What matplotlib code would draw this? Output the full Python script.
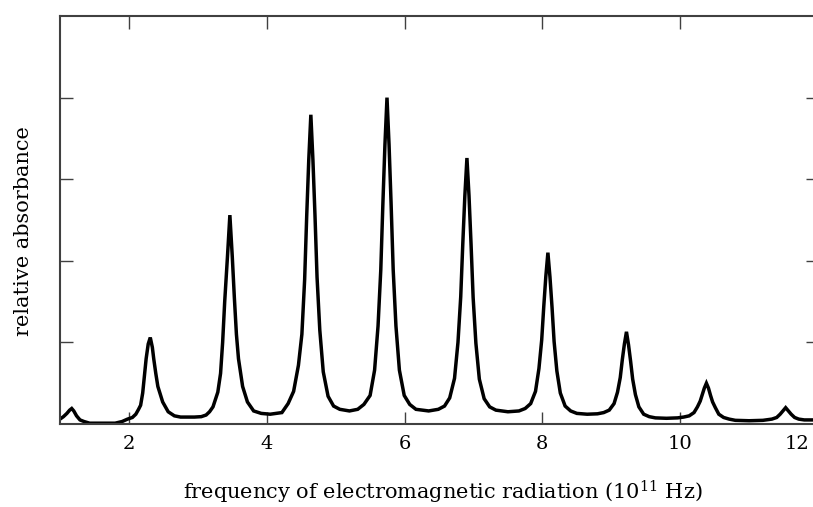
"""Rotational absorption spectrum: relative absorbance vs frequency."""

import matplotlib
matplotlib.use("Agg")
import matplotlib.pyplot as plt

plt.rcParams["font.family"] = ["DejaVu Serif"]
plt.rcParams["mathtext.fontset"] = "dejavuserif"

# ---------------------------------------------------------------------------
# Traced spectrum (frequency in 1e11 Hz, relative absorbance)
# ---------------------------------------------------------------------------
freq = [
    1.00, 1.05, 1.10, 1.14, 1.17, 1.20, 1.24, 1.29, 1.35, 1.43, 1.60, 1.80, 1.90, 1.98,
    2.05, 2.10, 2.14, 2.17, 2.20, 2.22, 2.25, 2.28, 2.31, 2.34, 2.36, 2.39, 2.42, 2.49,
    2.57, 2.66, 2.75, 2.95,
    3.05, 3.12, 3.17, 3.22, 3.29, 3.33, 3.36, 3.39, 3.43, 3.465, 3.50, 3.53, 3.56, 3.59,
    3.65, 3.72, 3.81, 3.92, 4.05,
    4.22, 4.31, 4.39, 4.46, 4.51, 4.55, 4.58, 4.61, 4.64, 4.67, 4.70, 4.73, 4.77, 4.82,
    4.89, 4.97, 5.06, 5.20,
    5.32, 5.41, 5.50, 5.565, 5.615, 5.655, 5.685, 5.715, 5.745, 5.775, 5.805, 5.835,
    5.875, 5.925, 5.995, 6.075, 6.165, 6.35,
    6.49, 6.58, 6.655, 6.725, 6.775, 6.815, 6.845, 6.875, 6.905, 6.935, 6.965, 6.995,
    7.035, 7.085, 7.155, 7.235, 7.325, 7.50,
    7.66, 7.75, 7.83, 7.90, 7.95, 7.99, 8.02, 8.05, 8.08, 8.11, 8.14, 8.17, 8.21, 8.26,
    8.33, 8.41, 8.50, 8.65,
    8.80, 8.89, 8.97, 9.04, 9.09, 9.13, 9.16, 9.19, 9.22, 9.25, 9.28, 9.31, 9.35, 9.40,
    9.47, 9.55, 9.64, 9.80,
    9.96, 10.05, 10.13, 10.20, 10.25, 10.29, 10.32, 10.35, 10.38, 10.41, 10.44, 10.47,
    10.51, 10.56, 10.63, 10.71, 10.80, 11.00,
    11.20, 11.33, 11.40, 11.45, 11.49, 11.53, 11.57, 11.61, 11.66, 11.72, 11.80, 12.00,
]
absorbance = [
    0.06, 0.09, 0.13, 0.17, 0.19, 0.16, 0.10, 0.05, 0.03, 0.01, 0.01, 0.01, 0.03, 0.06,
    0.08, 0.12, 0.18, 0.23, 0.38, 0.55, 0.80, 0.98, 1.06, 0.94, 0.80, 0.62, 0.46, 0.27,
    0.15, 0.10, 0.085, 0.085,
    0.09, 0.11, 0.15, 0.21, 0.39, 0.62, 1.00, 1.50, 2.05, 2.56, 2.05, 1.55, 1.10, 0.80,
    0.46, 0.27, 0.16, 0.13, 0.12,
    0.14, 0.25, 0.40, 0.72, 1.10, 1.77, 2.55, 3.24, 3.79, 3.24, 2.56, 1.80, 1.15, 0.64,
    0.34, 0.22, 0.18, 0.16,
    0.18, 0.24, 0.35, 0.66, 1.20, 1.89, 2.69, 3.42, 4.00, 3.42, 2.69, 1.89,
    1.20, 0.66, 0.35, 0.24, 0.18, 0.16,
    0.18, 0.22, 0.32, 0.56, 1.00, 1.56, 2.21, 2.80, 3.26, 2.80, 2.20, 1.55,
    0.99, 0.55, 0.31, 0.21, 0.17, 0.15,
    0.16, 0.19, 0.25, 0.40, 0.68, 1.03, 1.44, 1.81, 2.10, 1.80, 1.43, 1.01, 0.65, 0.38,
    0.22, 0.16, 0.13, 0.12,
    0.125, 0.14, 0.17, 0.25, 0.39, 0.57, 0.79, 0.98, 1.13, 0.97, 0.77, 0.55, 0.36, 0.21,
    0.12, 0.09, 0.075, 0.07,
    0.075, 0.085, 0.10, 0.14, 0.21, 0.28, 0.36, 0.44, 0.50, 0.44, 0.35, 0.27,
    0.20, 0.12, 0.08, 0.06, 0.045, 0.04,
    0.045, 0.06, 0.08, 0.12, 0.16, 0.20, 0.16, 0.12, 0.08, 0.06, 0.05, 0.05,
]

x_ticks = [2, 4, 6, 8, 10, 12]
x_tick_labels = ["2", "4", "6", "8", "10", ""]   # "12" sits against the edge, drawn below
y_ticks = [1, 2, 3, 4]

AXIS_COLOR = "#404040"
TICK_FS = 14
LABEL_FS = 15

fig = plt.figure(figsize=(8.13, 5.07), dpi=100)
ax = fig.add_axes([0.0738, 0.1637, 0.9324, 0.8047])

ax.plot(freq, absorbance, color="black", lw=2.5, solid_joinstyle="miter")

ax.set_xlim(1, 12)
ax.set_ylim(0, 5)
ax.set_xticks(x_ticks)
ax.set_xticklabels(x_tick_labels, fontsize=TICK_FS)
ax.set_yticks(y_ticks)
ax.set_yticklabels([])
ax.tick_params(direction="in", length=9, width=1.0, color=AXIS_COLOR,
               top=True, right=True, pad=8)

# last tick label is pulled inside the picture edge
ax.annotate("12", xy=(x_ticks[-1], 0), xycoords="data", xytext=(-6, -8),
            textcoords="offset points", ha="right", va="top", fontsize=TICK_FS,
            annotation_clip=False)

for side in ax.spines.values():
    side.set_color(AXIS_COLOR)
    side.set_linewidth(1.5)

ax.set_xlabel("frequency of electromagnetic radiation (10$^{11}$ Hz)", fontsize=LABEL_FS)
ax.xaxis.set_label_coords(0.505, -0.135)
ax.set_ylabel("relative absorbance", fontsize=LABEL_FS)
ax.yaxis.set_label_coords(-0.036, 0.473)

fig.savefig("out.png", dpi=100)
